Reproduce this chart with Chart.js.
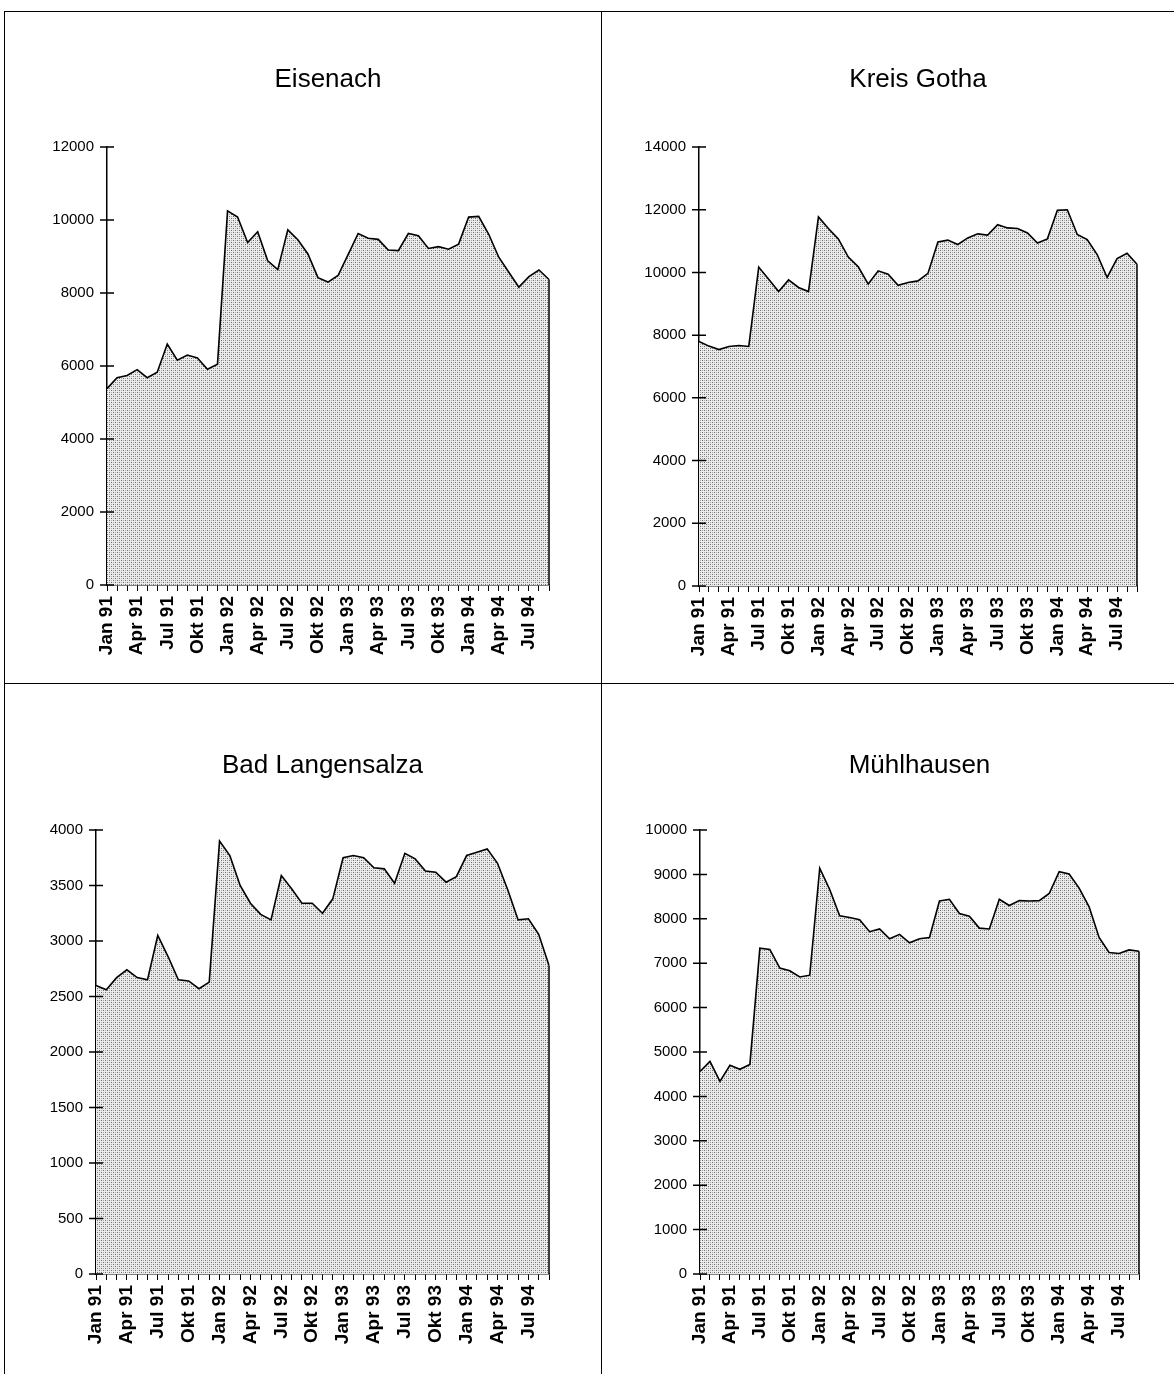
<!DOCTYPE html>
<html>
<head>
<meta charset="utf-8">
<script src="https://cdn.jsdelivr.net/npm/chart.js@4.4.0/dist/chart.umd.min.js"></script>
<style>
  body { margin: 0; background: #fff; width: 1174px; height: 1374px; position: relative; overflow: hidden; }
  .line { position: absolute; background: #000; }
  canvas { position: absolute; }
</style>
</head>
<body>
<div class="line" style="left:4px; top:11px; width:1170px; height:1px"></div>
<div class="line" style="left:4px; top:11px; width:1px; height:1363px"></div>
<div class="line" style="left:601px; top:11px; width:1px; height:1363px"></div>
<div class="line" style="left:4px; top:683px; width:1170px; height:1px"></div>

<canvas id="eisenach" width="596" height="671" style="left:5px; top:12px"></canvas>
<canvas id="gotha" width="572" height="671" style="left:602px; top:12px"></canvas>
<canvas id="langensalza" width="596" height="690" style="left:5px; top:684px"></canvas>
<canvas id="muehlhausen" width="572" height="690" style="left:602px; top:684px"></canvas>

<script>
// Monate Jan 91 - Sep 94
const months = ['Jan', 'Feb', 'Mär', 'Apr', 'Mai', 'Jun', 'Jul', 'Aug', 'Sep', 'Okt', 'Nov', 'Dez'];
const years = ['91', '92', '93', '94'];
const lastMonthOf94 = 9;

const eisenach = [5380, 5680, 5740, 5900, 5680, 5830, 6600, 6160, 6300, 6220, 5910, 6050,
                  10250, 10080, 9380, 9680, 8880, 8640, 9730, 9460, 9070, 8420, 8300, 8480,
                  9050, 9630, 9500, 9470, 9180, 9160, 9630, 9570, 9220, 9270, 9200, 9340,
                  10080, 10100, 9610, 8980, 8570, 8160, 8450, 8630, 8370];
const kreisGotha = [7800, 7650, 7540, 7640, 7670, 7640, 10170, 9780, 9390, 9760, 9520, 9390,
                    11770, 11400, 11070, 10490, 10180, 9630, 10050, 9940, 9590, 9680, 9730, 9970,
                    10970, 11030, 10890, 11100, 11230, 11190, 11520, 11420, 11400, 11260, 10940, 11070,
                    11980, 12000, 11210, 11050, 10570, 9840, 10440, 10610, 10260];
const badLangensalza = [2600, 2560, 2670, 2740, 2670, 2650, 3050, 2860, 2650, 2640, 2570, 2630,
                        3900, 3770, 3500, 3340, 3240, 3190, 3590, 3470, 3340, 3340, 3250, 3380,
                        3750, 3770, 3750, 3660, 3650, 3520, 3790, 3740, 3630, 3620, 3530, 3580,
                        3770, 3800, 3830, 3700, 3460, 3190, 3200, 3060, 2780];
const muehlhausen = [4560, 4790, 4340, 4700, 4610, 4720, 7340, 7310, 6890, 6830, 6690, 6730,
                     9140, 8660, 8070, 8030, 7980, 7710, 7770, 7550, 7650, 7460, 7550, 7580,
                     8400, 8440, 8120, 8060, 7790, 7770, 8440, 8300, 8410, 8400, 8410, 8570,
                     9060, 9010, 8690, 8270, 7580, 7240, 7220, 7300, 7270];

const yMax = { eisenach: 12000, gotha: 14000, langensalza: 4000, muehlhausen: 10000 };
const yStep = { eisenach: 2000, gotha: 2000, langensalza: 500, muehlhausen: 1000 };

const monthLabels = [];
years.forEach(y => {
  months.forEach((m, i) => {
    if (y === '94' && i >= lastMonthOf94) return;
    monthLabels.push(m + ' ' + y);
  });
});

const FONT = '"Liberation Sans", Arial, sans-serif';

function makeStipple() {
  const t = document.createElement('canvas');
  t.width = 4; t.height = 4;
  const c = t.getContext('2d');
  c.fillStyle = '#ececec'; c.fillRect(0, 0, 4, 4);
  c.fillStyle = '#6a6a6a'; c.fillRect(0, 0, 1, 1); c.fillRect(2, 2, 1, 1);
  c.fillStyle = '#ababab'; c.fillRect(2, 0, 1, 1); c.fillRect(0, 2, 1, 1);
  return c.createPattern(t, 'repeat');
}
const stipple = makeStipple();

// cross ticks on the y axis + right edge of the area
const axisMarks = {
  id: 'axisMarks',
  afterDraw(chart) {
    const ctx = chart.ctx, a = chart.chartArea, y = chart.scales.y;
    const pts = chart.getDatasetMeta(0).data;
    const last = pts[pts.length - 1];
    ctx.save();
    ctx.strokeStyle = '#000';
    ctx.lineWidth = 1.5;
    ctx.beginPath();
    ctx.moveTo(last.x, last.y);
    ctx.lineTo(last.x, a.bottom);
    y.ticks.forEach((t, i) => {
      const py = y.getPixelForTick(i);
      ctx.moveTo(a.left - 7, py);
      ctx.lineTo(a.left + 7, py);
    });
    ctx.stroke();
    ctx.restore();
  }
};

function makePanel(id, title, values, maxY, stepY, area, titleY) {
  const canvas = document.getElementById(id);
  const W = canvas.width, H = canvas.height;
  const yAxisW = 80, titleSize = 26, titleLH = 1.2;
  const titleH = titleSize * titleLH;
  const padTop = titleY - titleH / 2;
  return new Chart(canvas, {
    type: 'line',
    data: {
      labels: monthLabels,
      datasets: [{
        data: values,
        borderColor: '#000',
        borderWidth: 1.6,
        backgroundColor: stipple,
        fill: 'origin',
        pointRadius: 0,
        tension: 0
      }]
    },
    options: {
      responsive: false,
      animation: false,
      layout: { padding: { left: area.left - yAxisW, right: W - area.right, top: 0, bottom: 0 } },
      plugins: {
        legend: { display: false },
        tooltip: { enabled: false },
        title: {
          display: true, text: title, fullSize: false, color: '#000',
          font: { family: FONT, size: titleSize, lineHeight: titleLH, weight: 'normal' },
          padding: { top: padTop, bottom: area.top - padTop - titleH }
        }
      },
      scales: {
        x: {
          offset: false, z: 1,
          grid: { drawOnChartArea: false, drawTicks: true, tickLength: 6, color: '#000', lineWidth: 1 },
          border: { color: '#000', width: 1.5 },
          ticks: {
            autoSkip: false, minRotation: 90, maxRotation: 90, padding: 5, color: '#000',
            font: { family: FONT, size: 19, weight: 'bold' },
            callback: (v, i) => (i % 3 === 0 ? monthLabels[i] : '')
          },
          afterFit: s => { s.height = H - area.bottom; }
        },
        y: {
          min: 0, max: maxY, z: 1,
          grid: { display: false },
          border: { color: '#000', width: 1.5 },
          ticks: { stepSize: stepY, padding: 5, color: '#000', font: { family: FONT, size: 15 }, callback: v => String(v) },
          afterFit: s => { s.width = yAxisW; }
        }
      }
    },
    plugins: [axisMarks]
  });
}

makePanel('eisenach', 'Eisenach', eisenach, yMax.eisenach, yStep.eisenach,
          { left: 102, right: 544, top: 135, bottom: 573 }, 68);
makePanel('gotha', 'Kreis Gotha', kreisGotha, yMax.gotha, yStep.gotha,
          { left: 97, right: 535, top: 135, bottom: 574 }, 68);
makePanel('langensalza', 'Bad Langensalza', badLangensalza, yMax.langensalza, yStep.langensalza,
          { left: 91, right: 544, top: 146, bottom: 590 }, 82);
makePanel('muehlhausen', 'Mühlhausen', muehlhausen, yMax.muehlhausen, yStep.muehlhausen,
          { left: 98, right: 537, top: 146, bottom: 590 }, 82);
</script>
</body>
</html>
